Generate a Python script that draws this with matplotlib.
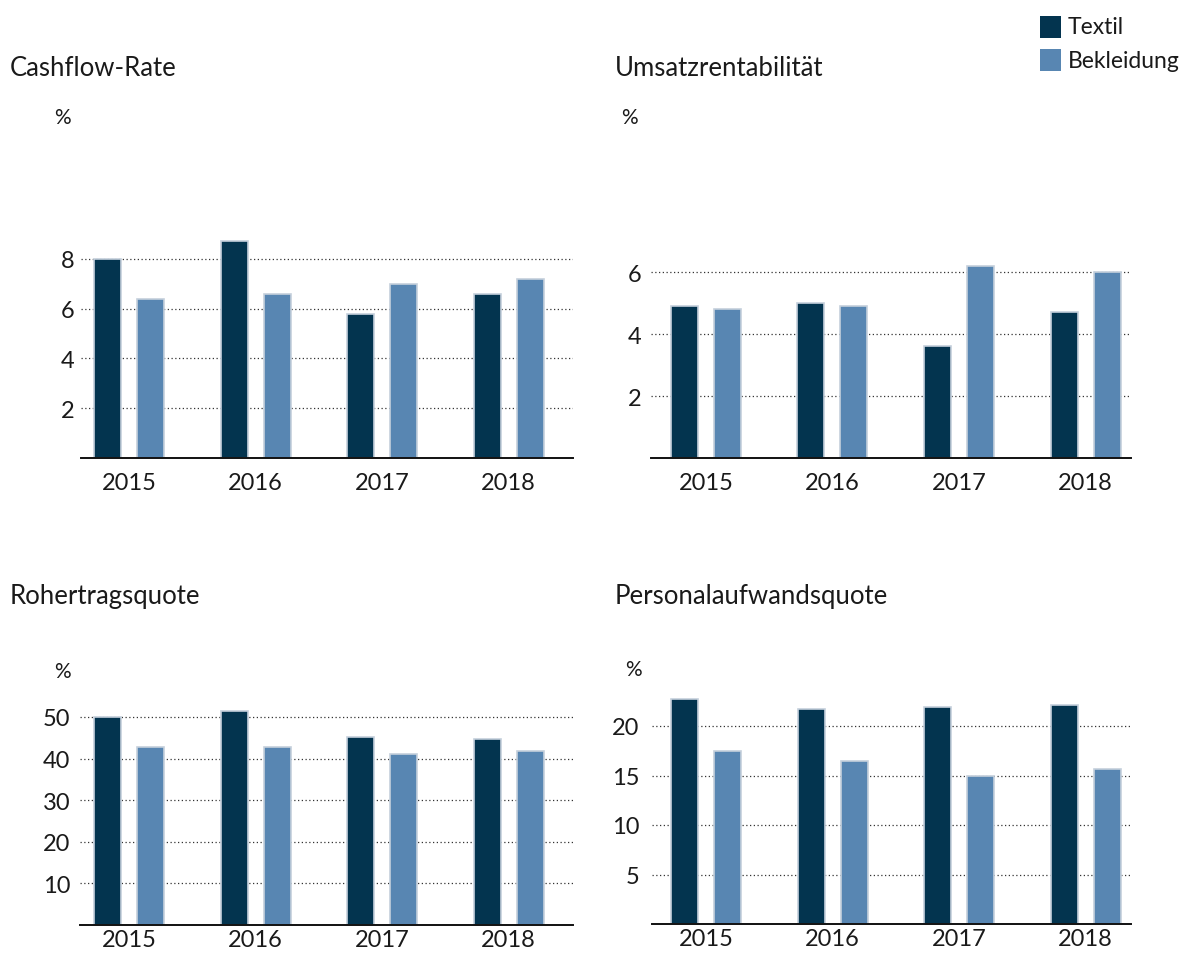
import matplotlib
matplotlib.use("Agg")
import matplotlib.pyplot as plt
import numpy as np
from matplotlib.patches import Rectangle

plt.rcParams['font.family'] = ['Lato', 'DejaVu Sans']

years = ["2015", "2016", "2017", "2018"]
series_names = ["Textil", "Bekleidung"]

cashflow_textil = [8.0, 8.7, 5.8, 6.6]
cashflow_bekl = [6.4, 6.6, 7.0, 7.2]
umsatz_textil = [4.9, 5.0, 3.6, 4.7]
umsatz_bekl = [4.8, 4.9, 6.2, 6.0]
rohertrag_textil = [50.0, 51.5, 45.3, 44.8]
rohertrag_bekl = [42.8, 42.7, 41.0, 41.9]
personal_textil = [22.7, 21.7, 21.9, 22.1]
personal_bekl = [17.5, 16.5, 14.9, 15.7]

titles = ["Cashflow-Rate", "Umsatzrentabilität", "Rohertragsquote", "Personalaufwandsquote"]
yticks_list = [[2, 4, 6, 8], [2, 4, 6], [10, 20, 30, 40, 50], [5, 10, 15, 20]]

C_TEXTIL = "#03344f"
C_BEKL = "#5886b2"
EDGE = "#c5d0dc"
TXT = "#1a1a1a"
FW = 'normal'

W, H = 1184, 954
fig = plt.figure(figsize=(W / 100, H / 100), dpi=100)


def px_axes(left, right, top, bottom):
    return fig.add_axes([left / W, 1 - bottom / H, (right - left) / W, (bottom - top) / H])


# (left, right, top, baseline, ylim_top, title_xy, pct_xy, xlabel_pad, ylabel_pad, first_center)
panels = [
    (81, 573, 140, 459, (459 - 140) / 24.9, (10, 68), (62, 118), 10, 4.5, 129),
    (651, 1131, 140, 459, (459 - 140) / 31.0, (615, 68), (629, 118), 10, 7, 706),
    (80, 573, 690, 926, (926 - 690) / 4.16, (10, 597), (62, 672), 3, 7, 129),
    (652, 1131, 690, 925, (925 - 690) / 9.9, (615, 597), (633, 670), 3, 9, 706),
]
data = [
    (cashflow_textil, cashflow_bekl),
    (umsatz_textil, umsatz_bekl),
    (rohertrag_textil, rohertrag_bekl),
    (personal_textil, personal_bekl),
]

group_px = 126.5
for i, (left, right, top, base, ytop, tpos, ppos, pad, ypad, first_center) in enumerate(panels):
    ax = px_axes(left, right, top, base)
    x0 = (left - first_center) / group_px
    x1 = (right - first_center) / group_px
    x = np.arange(len(years))
    off = 21.5 / group_px
    bw = 27 / group_px
    t, b = data[i]
    ax.bar(x - off, t, width=bw, color=C_TEXTIL, edgecolor=EDGE, linewidth=1.2, zorder=3)
    ax.bar(x + off, b, width=bw, color=C_BEKL, edgecolor=EDGE, linewidth=1.2, zorder=3)
    ax.set_xlim(x0, x1)
    ax.set_ylim(0, ytop)
    ax.set_xticks(x)
    ax.set_xticklabels(years)
    ax.set_yticks(yticks_list[i])
    ax.set_yticklabels([str(v) for v in yticks_list[i]])
    ax.tick_params(axis='both', length=0, labelsize=17, colors=TXT)
    ax.tick_params(axis='x', pad=pad)
    ax.tick_params(axis='y', pad=ypad)
    for lbl in ax.get_xticklabels() + ax.get_yticklabels():
        lbl.set_fontweight(FW)
    ax.yaxis.grid(True, linestyle=(0, (1, 2)), color='#333333', linewidth=0.9, zorder=0)
    for s in ['top', 'right', 'left']:
        ax.spines[s].set_visible(False)
    ax.spines['bottom'].set_linewidth(1.4)
    ax.spines['bottom'].set_color('#111111')
    ax.spines['bottom'].set_zorder(4)
    ax.set_axisbelow(True)
    fig.text(tpos[0] / W, 1 - tpos[1] / H, titles[i], fontsize=18.5, fontweight=FW,
             ha='left', va='center', color=TXT)
    fig.text(ppos[0] / W, 1 - ppos[1] / H, "%", fontsize=15, fontweight=FW,
             ha='center', va='center', color=TXT)

# legend
for j, (name, col, yc) in enumerate([("Textil", C_TEXTIL, 28), ("Bekleidung", C_BEKL, 61)]):
    fig.patches.append(Rectangle((1040 / W, 1 - (yc + 11) / H), 21 / W, 22 / H,
                                 transform=fig.transFigure, facecolor=col, edgecolor='none'))
    fig.text(1068 / W, 1 - yc / H, name, fontsize=16.5, fontweight=FW,
             ha='left', va='center', color=TXT)

fig.savefig("out.png", dpi=100)
